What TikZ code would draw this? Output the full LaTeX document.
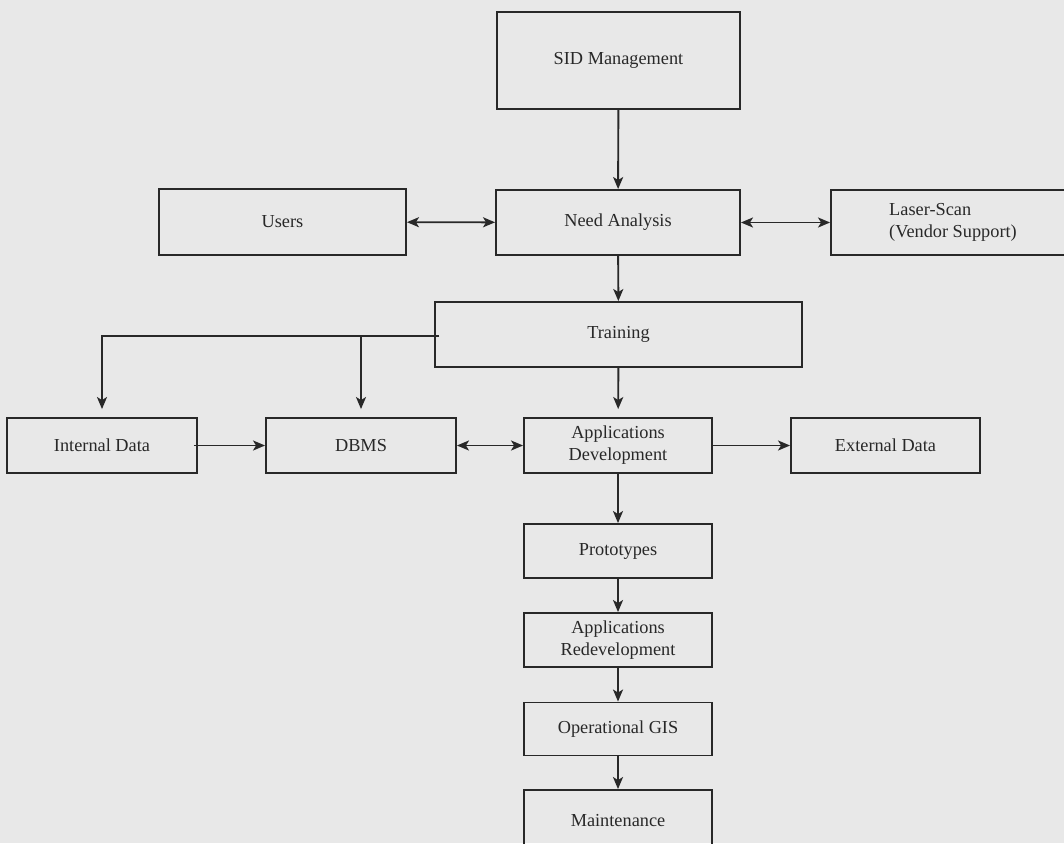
\documentclass[tikz,border=0pt]{standalone}
\usepackage{fontspec}
\setmainfont{Liberation Serif}
\usetikzlibrary{arrows.meta}
\definecolor{paper}{RGB}{232,232,232}
\definecolor{ink}{RGB}{40,40,40}
\tikzset{
  tip/.tip={Stealth[length=12pt,width=10pt,inset=3pt]},
  box/.style={draw=ink, line width=1.9pt, rectangle, inner sep=0pt,
    text=ink, align=center, font=\fontsize{18.3}{22}\selectfont},
  link/.style={draw=ink, line width=1.9pt, -tip},
  both/.style={link, tip-tip}
}
\begin{document}
\begin{tikzpicture}[x=1pt,y=-1pt]
  \useasboundingbox (0,0) rectangle (1064,843);
  \fill[paper] (0,0) rectangle (1064,843);
  \clip (0,0) rectangle (1064,843);

  % boxes
  \node[box, minimum width=243pt, minimum height=97pt] (sid) at (618.5,60.5) {SID Management};
  \node[box, minimum width=244pt, minimum height=65pt] (need) at (618,222.5) {Need Analysis};
  \node[box, minimum width=247pt, minimum height=66pt] (users) at (282.5,222) {Users};
  \node[box, minimum width=244pt, minimum height=65pt, align=left] (laser) at (953,222.5) {Laser-Scan\\(Vendor Support)};
  \node[box, minimum width=367pt, minimum height=65pt] (train) at (618.5,334.5) {Training};
  \node[box, minimum width=190pt, minimum height=55pt] (internal) at (102,445.5) {Internal Data};
  \node[box, minimum width=190pt, minimum height=55pt] (dbms) at (361,445.5) {DBMS};
  \node[box, minimum width=188pt, minimum height=55pt] (appdev) at (618,445.5) {Applications\\Development};
  \node[box, minimum width=189pt, minimum height=55pt] (ext) at (885.5,445.5) {External Data};
  \node[box, minimum width=188pt, minimum height=54pt] (proto) at (618,551) {Prototypes};
  \node[box, minimum width=188pt, minimum height=54pt] (redev) at (618,640) {Applications\\Redevelopment};
  \node[box, minimum width=188pt, minimum height=53pt] (ops) at (618,729) {Operational GIS};
  \node[box, minimum width=188pt, minimum height=62pt] (maint) at (618,821) {Maintenance};

  % connectors
  \draw[link] (sid) -- (need);
  \draw[both] (users) -- (need);
  \draw[both] (need) -- (laser);
  \draw[link] (need) -- (train);

  \coordinate (tw) at ([xshift=5pt,yshift=-1.5pt]train.west);
  \coordinate (split) at (dbms.north |- tw);
  \draw[link, shorten >=8pt] (tw) -| (internal.north);
  \draw[link, shorten >=8pt] (split) -- (dbms.north);
  \draw[link, shorten >=8pt] (train) -- (appdev);

  \draw[link] ([xshift=-4pt]internal.east) -- (dbms.west);
  \draw[both] (dbms) -- (appdev);
  \draw[link] (appdev) -- (ext);

  \draw[link] (appdev) -- (proto);
  \draw[link] (proto) -- (redev);
  \draw[link] (redev) -- (ops);
  \draw[link] (ops) -- (maint);
\end{tikzpicture}
\end{document}
